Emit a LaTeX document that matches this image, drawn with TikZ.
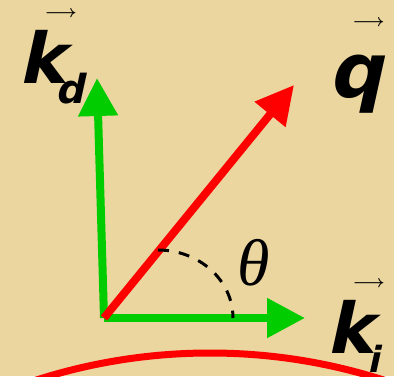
\documentclass[tikz,border=0pt]{standalone}
\usepackage{fontspec}
\newfontfamily\lblfont{DejaVu Sans}[FakeSlant=0.22]
\newfontfamily\thetafont{Liberation Serif}
\usetikzlibrary{arrows.meta, positioning}
\definecolor{papyrus}{RGB}{235,214,160}
\definecolor{vecgreen}{RGB}{0,204,0}
\definecolor{vecred}{RGB}{255,0,0}
\newcommand{\vecarrow}[2][0.38em]{\makebox[0pt][l]{\raisebox{0.93em}{\kern#1\fontsize{17}{17}\selectfont\boldmath$\longrightarrow$}}#2}
\newcommand{\subl}[4][-20pt]{\kern#2\raisebox{#1}{\fontsize{#3}{#3}\selectfont #4}}

\begin{document}
\begin{tikzpicture}[x=1pt, y=1pt,
		garr/.style={vecgreen, line width=8pt, -{Triangle[length=38pt, width=38pt]}},
		rarr/.style={vecred, line width=8pt, -{Triangle[length=38pt, width=38pt]}},
		anglearc/.style={black, line width=3pt, dash pattern=on 11pt off 10pt},
		ring/.style={vecred, line width=7pt},
		lbl/.style={font=\lblfont\bfseries\fontsize{70}{70}\selectfont, inner sep=0pt, anchor=base west}]
	\fill[papyrus] (0,0) rectangle (394,376);
	\useasboundingbox (0,0) rectangle (394,376);
	\coordinate (O) at (104,58);
	\coordinate (kdtip) at (97,298);
	\coordinate (kitip) at (305,58);
	\coordinate (qtip) at (294,291);
	\coordinate (arcstart) at (158,126);
	\draw[garr] (O) -- (kdtip);
	\draw[garr] (O) -- (kitip);
	\draw[rarr] (O) -- (qtip);
	\draw[anglearc] (arcstart) arc[start angle=90, end angle=0, x radius=75pt, y radius=68pt];
	\node[font=\thetafont\itshape\fontsize{66}{66}\selectfont] (theta) at (254,113) {θ};
	\begin{scope}
		\clip (0,0) rectangle (394,376);
		\draw[ring] (210,-545) circle[radius=568pt];
	\end{scope}
	\node[lbl] (kd) at (18,293) {\vecarrow{k}\subl{-9pt}{40}{d}};
	\node[lbl, font=\lblfont\bfseries\fontsize{76}{76}\selectfont] (q) at (328,279) {\vecarrow[0.32em]{q}};
	\node[lbl] (ki) at (326,23) {\vecarrow{k}\subl[-19pt]{-5pt}{36}{i}};
\end{tikzpicture}
\end{document}
